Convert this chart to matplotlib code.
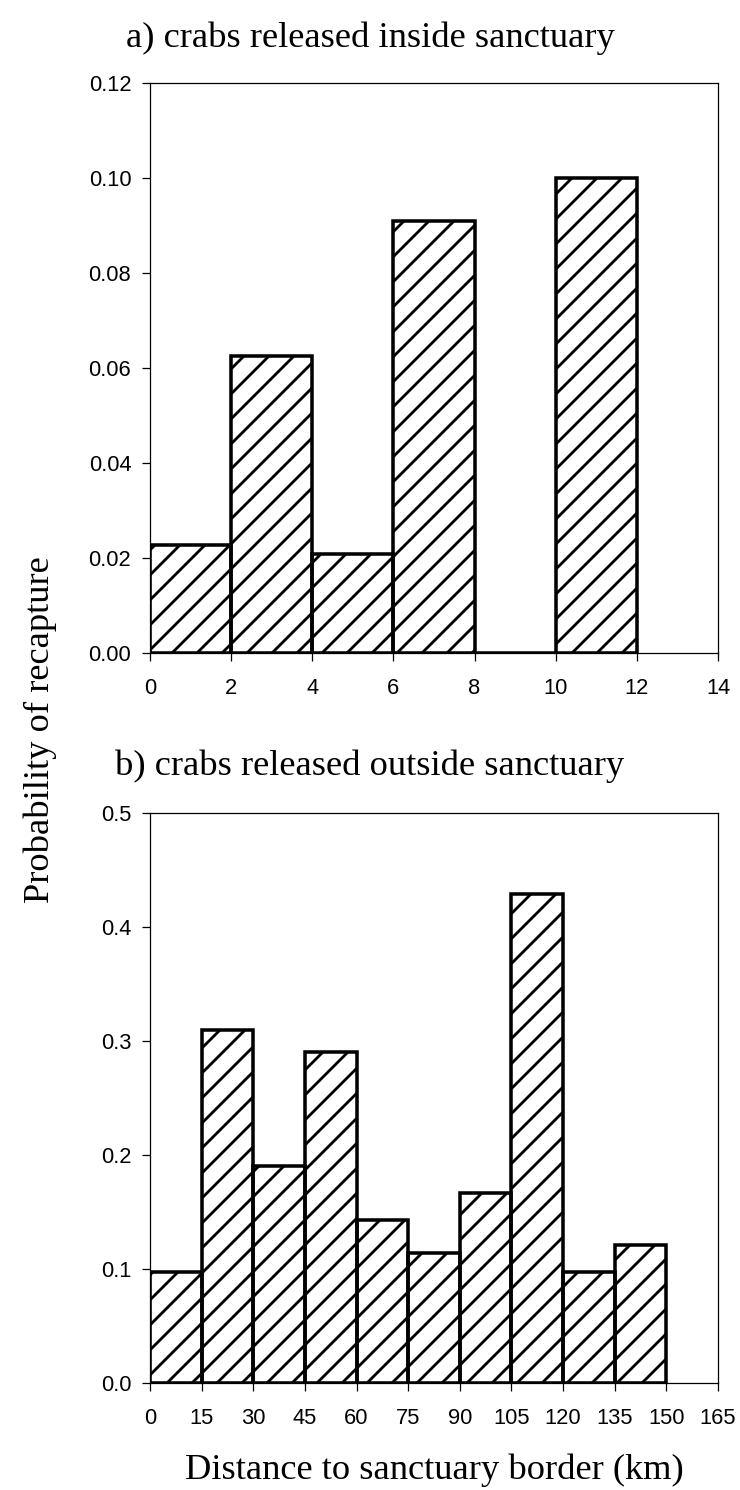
import numpy as np
import matplotlib
matplotlib.use('Agg')
import matplotlib.pyplot as plt

# panel a: crabs released inside sanctuary (2 km bins)
edges_a = [0, 2, 4, 6, 8, 10]
width_a = 2
prob_a = [0.0227, 0.0625, 0.0208, 0.0909, 0.0, 0.100]
xticks_a = [0, 2, 4, 6, 8, 10, 12, 14]
yticks_a = [0.00, 0.02, 0.04, 0.06, 0.08, 0.10, 0.12]

# panel b: crabs released outside sanctuary (15 km bins)
edges_b = [0, 15, 30, 45, 60, 75, 90, 105, 120, 135]
width_b = 15
prob_b = [0.097, 0.310, 0.190, 0.290, 0.143, 0.114, 0.167, 0.429, 0.097, 0.121]
xticks_b = [0, 15, 30, 45, 60, 75, 90, 105, 120, 135, 150, 165]
yticks_b = [0.0, 0.1, 0.2, 0.3, 0.4, 0.5]

plt.rcParams['hatch.linewidth'] = 1.35
plt.rcParams['font.family'] = ['Liberation Sans', 'DejaVu Sans']
serif = ['Liberation Serif', 'DejaVu Serif']

DPI = 150
fig = plt.figure(figsize=(740 / DPI, 1490 / DPI), dpi=DPI)

L, W = 150 / 740, 568 / 740
ax_a = fig.add_axes([L, 1 - 653 / 1490, W, 570 / 1490])
ax_b = fig.add_axes([L, 1 - 1383 / 1490, W, 570 / 1490])


def draw(ax, edges, width, vals, xt, yt, fmt):
    ax.bar(edges, vals, width=width, align='edge', fill=False,
           edgecolor='black', linewidth=1.7, hatch='//')
    ax.set_xlim(xt[0], xt[-1])
    ax.set_ylim(yt[0], yt[-1])
    ax.set_xticks(xt)
    ax.set_yticks(yt)
    ax.set_yticklabels([fmt % v for v in yt])
    ax.tick_params(direction='out', length=4, width=0.6, labelsize=10.5,
                   top=False, right=False)
    ax.tick_params(axis='x', pad=8)
    ax.tick_params(axis='y', pad=5)
    for s in ax.spines.values():
        s.set_linewidth(0.6)


draw(ax_a, edges_a, width_a, prob_a, xticks_a, yticks_a, '%.2f')
draw(ax_b, edges_b, width_b, prob_b, xticks_b, yticks_b, '%.1f')

fig.text(0.5, 1 - 38 / 1490, 'a) crabs released inside sanctuary',
         ha='center', va='center', fontsize=17.5, family=serif)
fig.text(0.5, 1 - 766 / 1490, 'b) crabs released outside sanctuary',
         ha='center', va='center', fontsize=17.5, family=serif)
fig.text(L + W / 2, 1 - 1470 / 1490, 'Distance to sanctuary border (km)',
         ha='center', va='center', fontsize=17.5, family=serif)
fig.text(0.055, 1 - 730 / 1490, 'Probability of recapture', rotation=90,
         ha='center', va='center', fontsize=17.5, family=serif)

fig.savefig('out.png', dpi=DPI)
